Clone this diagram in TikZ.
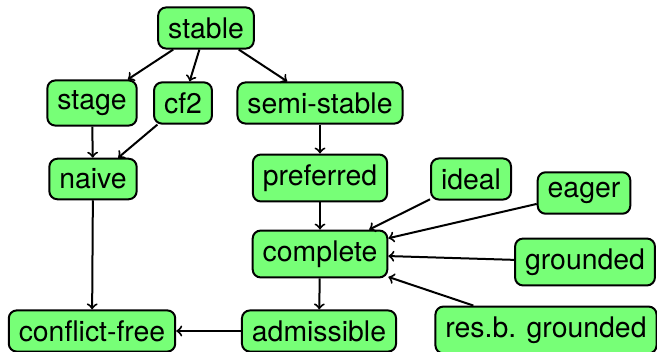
\documentclass[tikz,border=0pt]{standalone}
\usepackage{fontspec}
\setmainfont{TeX Gyre Heros}
\definecolor{semgreen}{RGB}{119,255,119}
\tikzset{
  sem/.style={draw=black, line width=1pt, fill=semgreen, rounded corners=4pt,
    inner xsep=5pt, inner ysep=5pt, font=\fontsize{14.2}{16}\selectfont},
  impl/.style={->, line width=1pt}
}
\begin{document}
\begin{tikzpicture}[x=0.5pt, y=-0.5pt]
    \useasboundingbox (0,0) rectangle (657,352);
    % semantics
    \node[sem] (stable) at (206,28) {stable};
    \node[sem] (stage) at (92,103) {stage};
    \node[sem] (cftwo) at (183,103) {cf2};
    \node[sem] (semistable) at (320,103) {semi-stable};
    \node[sem] (naive) at (93,179) {naive};
    \node[sem] (preferred) at (320,178) {preferred};
    \node[sem] (ideal) at (471,179) {ideal};
    \node[sem] (eager) at (584,193) {eager};
    \node[sem] (complete) at (320,254) {complete};
    \node[sem] (grounded) at (585,262) {grounded};
    \node[sem] (admissible) at (319,331) {admissible};
    \node[sem] (resgrounded) at (546,330) {res.b. grounded};
    \node[sem] (conflictfree) at (92,331) {conflict-free};
    % relations
    \foreach \a/\b in {stable/stage, stable/cftwo, stable/semistable,
      stage/naive, cftwo/naive, semistable/preferred, preferred/complete,
      ideal/complete, eager/complete, grounded/complete, resgrounded/complete,
      complete/admissible, admissible/conflictfree, naive/conflictfree}
      \draw[impl] (\a) -- (\b);
\end{tikzpicture}
\end{document}
